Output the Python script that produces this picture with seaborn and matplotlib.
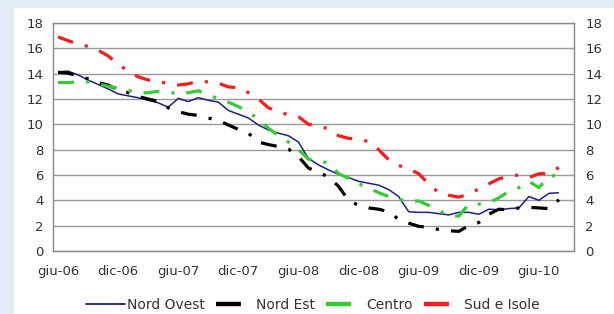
import numpy as np
import pandas as pd
import matplotlib
matplotlib.use("Agg")
import matplotlib.pyplot as plt
from matplotlib.lines import Line2D
from matplotlib.patches import Rectangle
import seaborn as sns

# monthly series, giu-06 .. ago-10
tick_labels = ["giu-06", "dic-06", "giu-07", "dic-07", "giu-08",
               "dic-08", "giu-09", "dic-09", "giu-10"]
series_names = ["Nord Ovest", "Nord Est", "Centro", "Sud e Isole"]

nord_ovest = [14.15, 14.2, 13.9, 13.5, 13.15, 12.8, 12.4, 12.25, 12.1, 11.9,
              11.7, 11.35, 12.05, 11.8, 12.1, 11.9, 11.75, 11.1, 10.8, 10.5,
              9.95, 9.55, 9.3, 9.1, 8.6, 7.3, 6.8, 6.4, 6.05, 5.8,
              5.5, 5.35, 5.2, 4.85, 4.3, 3.1, 3.05, 3.05, 2.95, 2.85,
              3.05, 3.05, 2.9, 3.3, 3.25, 3.35, 3.4, 4.3, 4.0, 4.55, 4.6]
nord_est = [14.1, 14.05, 13.8, 13.6, 13.3, 13.1, 12.7, 12.5, 12.2, 12.0,
            11.8, 11.3, 11.0, 10.8, 10.7, 10.5, 10.3, 9.95, 9.6, 9.3,
            8.6, 8.4, 8.25, 8.05, 7.45, 6.55, 6.2, 5.85, 5.1, 4.0,
            3.6, 3.4, 3.3, 3.1, 2.5, 2.2, 1.95, 1.85, 1.7, 1.6,
            1.55, 2.0, 2.25, 2.9, 3.3, 3.25, 3.4, 3.45, 3.4, 3.35, 4.05]
centro = [13.3, 13.3, 13.35, 13.35, 13.2, 13.0, 12.85, 12.7, 12.45, 12.5,
          12.6, 12.6, 12.35, 12.5, 12.65, 12.3, 12.05, 11.75, 11.4, 11.0,
          10.4, 9.7, 9.1, 8.6, 8.0, 7.25, 7.1, 6.95, 6.1, 5.75,
          5.3, 5.0, 4.6, 4.3, 4.1, 3.9, 3.95, 3.6, 3.2, 2.8,
          2.75, 3.7, 3.7, 3.8, 4.2, 4.7, 5.0, 5.5, 5.0, 5.9, 6.0]
sud_isole = [16.9, 16.6, 16.35, 16.15, 15.85, 15.4, 14.75, 14.2, 13.75, 13.5,
             13.4, 13.2, 13.1, 13.2, 13.4, 13.35, 13.25, 12.95, 12.9, 12.5,
             12.0, 11.3, 11.0, 10.75, 10.6, 10.0, 9.85, 9.65, 9.1, 8.9,
             8.8, 8.65, 8.0, 7.2, 6.75, 6.5, 6.1, 5.3, 4.6, 4.4,
             4.25, 4.5, 4.9, 5.3, 5.7, 5.9, 6.0, 5.8, 6.1, 6.1, 6.6]

months = np.arange(len(nord_ovest))
df = pd.DataFrame({
    "mese": np.tile(months, 4),
    "valore": nord_ovest + nord_est + centro + sud_isole,
    "serie": np.repeat(series_names, len(months)),
})

colors = {"Nord Ovest": "#1f1f8c", "Nord Est": "#000000",
          "Centro": "#33cc33", "Sud e Isole": "#ff1a1a"}
dash_dot = (0, (5.0, 3.8, 1, 3.8))
styles = {"Nord Ovest": ("-", 1.1), "Nord Est": (dash_dot, 2.3),
          "Centro": (dash_dot, 2.3), "Sud e Isole": (dash_dot, 2.3)}

sns.set_style("white")
plt.rcParams["font.family"] = ["DejaVu Sans"]
text_color = "#333333"

fig = plt.figure(figsize=(6.14, 3.14), dpi=100, facecolor="#e3ecf4")
fig.patches.append(Rectangle((14 / 614, 0), 1, 1 - 8 / 314, transform=fig.transFigure,
                             facecolor="white", edgecolor="none", zorder=-1))
ax = fig.add_axes([53 / 614, 1 - 251 / 314, 521 / 614, 228 / 314])
ax.set_facecolor("white")

for name in series_names:
    ls, lw = styles[name]
    sns.lineplot(data=df[df["serie"] == name], x="mese", y="valore", ax=ax,
                 color=colors[name], linewidth=lw, linestyle=ls,
                 solid_capstyle="butt", dash_capstyle="butt", legend=False)

ax.set_xlim(-0.5, len(months) + 0.5)
ax.set_ylim(0, 18)
ax.set_yticks(range(0, 19, 2))
ax.set_xticks(range(0, 49, 6))
ax.set_xticklabels(tick_labels)
ax.set_xlabel("")
ax.set_ylabel("")
ax.yaxis.grid(True, color="#999999", linewidth=1.0)
ax.set_axisbelow(True)
for sp in ax.spines.values():
    sp.set_color("#888888")
    sp.set_linewidth(1.0)
ax.tick_params(axis="y", length=0, pad=7, labelsize=9.5, labelcolor=text_color)
ax.tick_params(axis="x", length=0, pad=10, labelsize=9.5, labelcolor=text_color)

ax2 = ax.twinx()
ax2.set_ylim(ax.get_ylim())
ax2.set_yticks(range(0, 19, 2))
ax2.tick_params(axis="y", length=0, pad=8, labelsize=9.5, labelcolor=text_color)
for sp in ax2.spines.values():
    sp.set_visible(False)

handles = [Line2D([], [], color=colors["Nord Ovest"], lw=1.3)]
for name in series_names[1:]:
    handles.append(Line2D([], [], color=colors[name], lw=3.2,
                          linestyle=(0, (5.6, 20)), dash_capstyle="butt"))
fig.legend(handles, series_names, loc="center", bbox_to_anchor=(0.51, 1 - 305 / 314),
           ncol=4, frameon=False, fontsize=10, handlelength=2.8,
           handletextpad=0.1, columnspacing=0.8, labelcolor=text_color)

fig.savefig("out.png", dpi=100, facecolor=fig.get_facecolor())
